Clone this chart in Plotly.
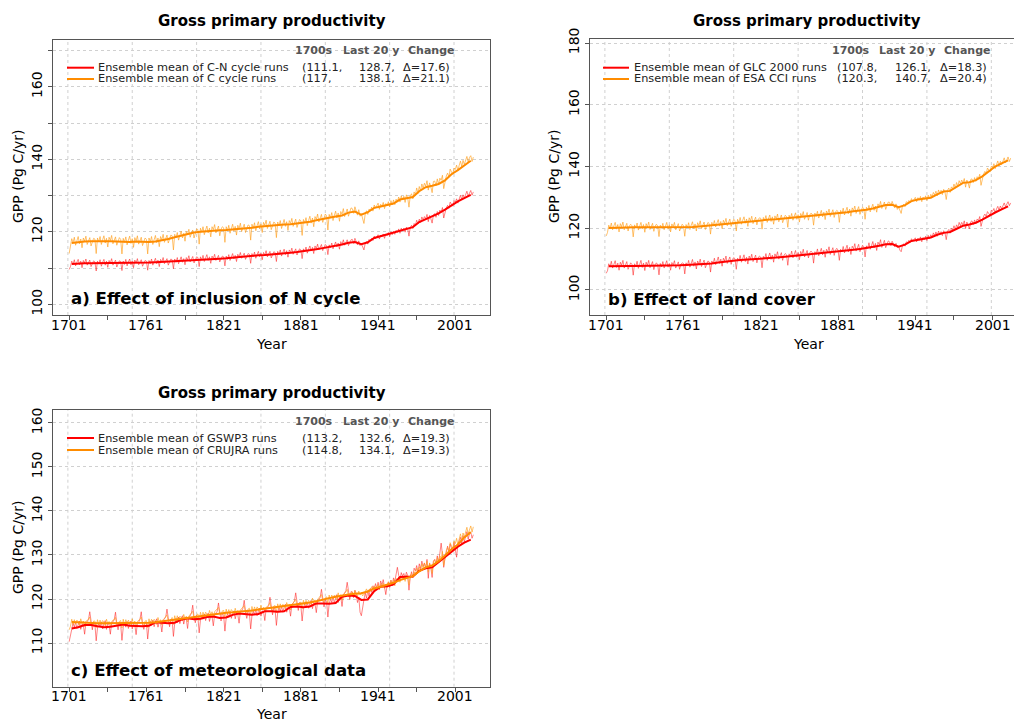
import plotly.graph_objects as go

W, H = 1014, 722
FONT = "DejaVu Sans"

years = list(range(1701, 2016))
smooth_years = list(range(1703, 2014, 5))

# ---- a) effect of including the N cycle ----
cn_annual = [
    109.6, 110.4, 111.9, 111.0, 112.3, 110.6, 111.6, 112.4, 110.9, 111.9, 110.1, 112.1, 111.4, 112.5, 110.8, 111.6, 112.2, 110.4, 111.5, 112.0,
    111.7, 109.2, 111.9, 111.1, 112.3, 110.5, 111.6, 112.4, 110.8, 111.9, 110.2, 112.1, 111.4, 112.6, 110.8, 111.6, 112.2, 110.3, 111.5, 112.0,
    111.8, 109.3, 111.9, 111.0, 112.4, 110.6, 111.7, 112.5, 110.9, 111.9, 110.1, 112.2, 111.4, 112.6, 110.9, 111.7, 112.3, 110.5, 111.6, 112.1,
    111.9, 109.4, 112.1, 111.2, 112.5, 110.8, 111.8, 112.7, 111.2, 112.2, 110.4, 112.4, 111.7, 112.9, 111.2, 112.0, 112.6, 110.8, 111.9, 112.5,
    112.3, 109.8, 112.5, 111.6, 112.9, 111.2, 112.2, 113.1, 111.6, 112.6, 110.9, 112.9, 112.2, 113.4, 111.7, 112.5, 113.2, 111.4, 112.6, 113.1,
    112.9, 110.4, 113.1, 112.2, 113.5, 111.8, 112.8, 113.7, 112.1, 113.1, 111.3, 113.3, 112.6, 113.8, 112.1, 112.9, 113.5, 111.7, 112.8, 113.3,
    113.1, 110.6, 113.3, 112.4, 113.7, 112.1, 113.1, 114.0, 112.5, 113.5, 111.8, 113.8, 113.1, 114.3, 112.7, 113.5, 114.1, 112.4, 113.5, 114.0,
    113.8, 111.3, 114.0, 113.1, 114.4, 112.7, 113.7, 114.6, 113.1, 114.1, 112.3, 114.3, 113.6, 114.8, 113.1, 113.9, 114.6, 112.8, 113.9, 114.5,
    114.3, 111.8, 114.6, 113.7, 115.0, 113.3, 114.3, 115.2, 113.7, 114.8, 113.0, 115.0, 114.3, 115.5, 113.8, 114.7, 115.3, 113.6, 114.7, 115.3,
    115.0, 112.6, 115.3, 114.5, 115.8, 114.1, 115.2, 116.1, 114.7, 115.7, 114.0, 116.1, 115.4, 116.6, 115.0, 115.8, 116.5, 114.8, 115.9, 116.5,
    116.1, 113.7, 116.4, 115.6, 116.9, 115.3, 116.3, 117.2, 115.8, 116.9, 115.2, 117.3, 116.6, 117.8, 116.3, 117.1, 117.8, 116.2, 117.3, 117.8,
    117.9, 116.8, 118.2, 117.3, 116.4, 117.5, 116.2, 116.7, 115.6, 115.0, 116.8, 117.3, 116.6, 117.9, 117.5, 118.2, 117.6, 118.8, 118.1, 118.6,
    119.2, 118.0, 119.1, 118.6, 119.4, 118.2, 119.3, 118.9, 119.8, 118.7, 120.0, 119.2, 120.1, 119.3, 120.4, 119.8, 120.8, 119.6, 121.0, 120.2,
    121.0, 119.9, 121.3, 120.8, 118.8, 121.2, 121.8, 120.9, 122.3, 121.8, 123.2, 122.2, 123.5, 122.6, 124.1, 123.3, 124.2, 123.6, 124.8, 122.8,
    124.5, 123.6, 122.4, 124.7, 125.0, 124.0, 125.6, 124.5, 126.0, 125.4, 126.7, 123.8, 125.4, 126.6, 127.3, 126.5, 128.2, 127.5, 127.1, 128.6,
    128.2, 129.1, 127.9, 129.0, 130.1, 128.9, 130.2, 129.3, 130.5, 131.2, 129.9, 130.9, 131.4, 130.1, 131.0,
]
c_annual = [
    114.0, 115.8, 118.1, 117.0, 118.5, 116.3, 117.6, 118.7, 116.7, 118.0, 115.6, 118.3, 117.4, 118.8, 116.5, 117.7, 118.4, 116.1, 117.5, 118.2,
    118.0, 114.0, 118.3, 117.2, 118.7, 116.5, 117.8, 118.9, 116.9, 118.2, 115.8, 118.5, 117.6, 119.0, 116.7, 117.9, 118.6, 116.3, 117.7, 118.4,
    117.9, 113.9, 118.2, 117.1, 118.6, 116.4, 117.7, 118.8, 116.8, 118.1, 115.7, 118.4, 117.5, 118.9, 116.6, 117.8, 118.5, 116.2, 117.6, 118.3,
    117.9, 113.9, 118.3, 117.2, 118.7, 116.5, 117.8, 119.0, 117.0, 118.3, 115.9, 118.7, 117.8, 119.3, 117.1, 118.3, 119.1, 116.9, 118.3, 119.1,
    118.9, 115.0, 119.3, 118.3, 119.8, 117.7, 119.0, 120.2, 118.3, 119.6, 117.4, 120.1, 119.2, 120.7, 118.5, 119.7, 120.5, 118.3, 119.7, 120.8,
    120.6, 116.6, 121.0, 119.9, 121.4, 119.2, 120.5, 121.6, 119.7, 121.0, 118.6, 121.4, 120.6, 122.0, 119.7, 120.9, 121.6, 118.9, 120.7, 121.4,
    121.1, 117.1, 121.4, 120.3, 121.8, 119.6, 120.9, 122.1, 120.2, 121.5, 119.1, 121.8, 120.9, 122.4, 120.1, 121.4, 122.1, 119.8, 121.2, 121.9,
    121.7, 117.7, 122.1, 121.0, 122.5, 120.3, 121.7, 122.8, 120.8, 122.2, 119.8, 122.6, 121.8, 123.2, 120.9, 122.1, 122.9, 120.6, 122.0, 122.7,
    122.4, 118.4, 122.7, 121.6, 123.1, 120.9, 122.2, 123.4, 121.5, 122.8, 120.4, 123.1, 122.3, 123.7, 121.5, 122.7, 123.5, 121.2, 122.6, 123.4,
    123.0, 119.0, 123.4, 122.4, 123.9, 121.7, 123.1, 124.3, 122.4, 123.8, 121.4, 124.2, 123.4, 124.9, 122.7, 124.0, 124.8, 122.6, 124.0, 124.9,
    124.4, 120.5, 124.8, 123.8, 125.3, 123.1, 124.5, 125.7, 123.8, 125.2, 122.9, 125.6, 124.8, 126.4, 124.2, 125.5, 126.3, 124.3, 125.7, 126.6,
    126.4, 125.1, 126.9, 125.8, 124.6, 126.1, 124.3, 125.0, 123.2, 122.3, 124.9, 125.8, 124.8, 126.3, 125.9, 126.8, 125.7, 127.4, 126.5, 127.1,
    127.9, 126.2, 127.6, 126.9, 128.1, 126.4, 127.8, 127.2, 128.3, 126.9, 128.6, 127.4, 128.8, 127.5, 129.0, 128.3, 129.6, 128.2, 129.9, 128.8,
    129.8, 128.1, 130.2, 129.4, 126.8, 129.9, 130.5, 129.1, 131.0, 130.2, 132.1, 130.6, 132.5, 131.3, 133.2, 132.0, 133.4, 132.6, 134.1, 131.5,
    133.5, 132.4, 130.8, 133.9, 134.0, 132.7, 134.6, 133.1, 134.8, 134.2, 135.6, 131.9, 133.8, 135.4, 136.2, 135.1, 137.3, 136.4, 135.8, 137.6,
    137.2, 138.4, 136.9, 138.3, 139.5, 138.0, 139.7, 138.6, 139.9, 140.8, 139.2, 140.5, 141.0, 139.4, 140.6,
]
cn_smooth = [
    111.1, 111.3, 111.3, 111.3, 111.3, 111.3, 111.3, 111.3, 111.3, 111.3,
    111.4, 111.4, 111.5, 111.6, 111.7, 111.8, 111.9, 112.1, 112.2, 112.4,
    112.5, 112.5, 112.6, 112.6, 112.7, 112.9, 113.1, 113.3, 113.4, 113.5,
    113.6, 113.7, 113.9, 114.0, 114.2, 114.4, 114.6, 114.9, 115.2, 115.5,
    115.8, 116.1, 116.5, 117.0, 117.2, 116.6, 117.1, 118.3, 118.8, 119.2,
    119.6, 120.1, 120.7, 121.3, 122.7, 123.5, 124.1, 125.1, 126.1, 127.3,
    128.4, 129.3, 130.2,
]
c_smooth = [
    116.9, 117.2, 117.3, 117.4, 117.3, 117.4, 117.4, 117.3, 117.3, 117.2,
    117.3, 117.2, 117.2, 117.3, 117.6, 118.0, 118.5, 119.0, 119.4, 119.8,
    120.0, 120.2, 120.3, 120.4, 120.5, 120.6, 120.8, 120.9, 121.1, 121.4,
    121.6, 121.7, 121.8, 122.0, 122.1, 122.3, 122.5, 122.8, 123.2, 123.6,
    123.9, 124.2, 124.5, 125.3, 125.6, 124.7, 125.4, 126.6, 127.0, 127.3,
    127.8, 128.9, 129.3, 129.6, 131.2, 132.3, 132.7, 133.2, 134.2, 135.9,
    137.0, 138.4, 139.6,
]

# ---- b) effect of land cover ----
glc_annual = [
    105.4, 106.2, 108.5, 107.5, 109.3, 107.1, 108.3, 109.5, 107.3, 108.7, 106.4, 109.0, 108.0, 109.6, 107.1, 108.4, 109.2, 106.7, 108.2, 108.8,
    108.3, 104.8, 108.5, 107.6, 109.3, 107.0, 108.3, 109.6, 107.3, 108.7, 106.3, 109.0, 108.0, 109.6, 107.2, 108.4, 109.2, 106.6, 108.2, 108.8,
    108.2, 104.9, 108.6, 107.5, 109.2, 107.1, 108.2, 109.5, 107.4, 108.6, 106.4, 108.9, 108.1, 109.5, 107.1, 108.5, 109.1, 106.7, 108.3, 108.8,
    108.6, 105.2, 108.8, 107.8, 109.6, 107.4, 108.6, 109.9, 107.7, 109.1, 106.8, 109.4, 108.4, 110.0, 107.6, 108.9, 109.7, 107.2, 108.7, 109.4,
    109.1, 105.8, 109.4, 108.5, 110.3, 108.2, 109.4, 110.7, 108.6, 110.0, 107.7, 110.3, 109.4, 111.0, 108.6, 109.9, 110.7, 108.3, 109.9, 110.5,
    110.1, 106.7, 110.3, 109.4, 111.2, 109.0, 110.2, 111.4, 109.2, 110.6, 108.4, 111.0, 110.0, 111.6, 109.2, 110.5, 111.3, 108.8, 110.4, 111.0,
    110.6, 107.2, 110.9, 110.0, 111.8, 109.6, 110.8, 112.0, 109.9, 111.3, 109.0, 111.7, 110.7, 112.4, 110.0, 111.3, 112.1, 109.6, 111.2, 111.8,
    111.4, 108.0, 111.7, 110.8, 112.6, 110.4, 111.6, 112.8, 110.6, 112.1, 109.8, 112.5, 111.5, 113.2, 110.7, 112.0, 112.8, 110.4, 112.0, 112.6,
    112.1, 108.7, 112.4, 111.5, 113.3, 111.1, 112.3, 113.5, 111.4, 112.9, 110.6, 113.2, 112.3, 114.0, 111.5, 112.9, 113.7, 111.2, 112.9, 113.5,
    112.9, 109.6, 113.2, 112.3, 114.1, 112.0, 113.2, 114.5, 112.3, 113.8, 111.5, 114.2, 113.3, 115.0, 112.6, 114.0, 114.8, 112.4, 113.9, 114.5,
    114.0, 110.7, 114.3, 113.4, 115.3, 113.2, 114.4, 115.7, 113.6, 115.1, 112.8, 115.5, 114.6, 116.3, 113.8, 115.2, 116.1, 113.7, 115.2, 115.9,
    115.6, 114.4, 115.8, 114.9, 114.0, 115.1, 113.7, 114.2, 112.9, 112.4, 114.4, 115.0, 114.2, 115.6, 115.3, 116.1, 115.4, 116.6, 115.8, 116.4,
    116.9, 115.6, 116.8, 116.1, 117.2, 115.6, 117.0, 116.3, 117.4, 116.0, 117.7, 116.6, 117.9, 117.1, 118.5, 117.6, 118.8, 117.4, 119.1, 118.1,
    118.9, 117.6, 119.2, 118.5, 116.3, 119.0, 119.6, 118.4, 120.0, 119.4, 120.8, 119.6, 121.1, 120.2, 121.9, 120.8, 121.9, 121.1, 122.4, 119.9,
    122.0, 121.0, 119.8, 122.1, 122.4, 121.2, 122.7, 121.6, 123.0, 122.5, 123.8, 120.6, 122.6, 123.9, 124.6, 123.8, 125.4, 124.8, 124.2, 125.8,
    125.5, 126.4, 125.0, 126.2, 127.1, 125.9, 127.2, 126.3, 127.5, 128.2, 127.0, 128.0, 128.6, 127.3, 128.2,
]
esa_annual = [
    117.5, 118.6, 121.0, 120.0, 121.7, 119.5, 120.8, 121.9, 119.7, 121.2, 118.8, 121.5, 120.5, 122.0, 119.5, 120.9, 121.6, 119.1, 120.7, 121.3,
    120.8, 117.2, 121.1, 120.1, 121.7, 119.4, 120.8, 121.9, 119.8, 121.2, 118.7, 121.5, 120.4, 122.0, 119.6, 120.9, 121.6, 119.0, 120.7, 121.3,
    120.7, 117.3, 121.0, 120.0, 121.6, 119.5, 120.7, 121.9, 119.7, 121.1, 118.8, 121.4, 120.5, 121.9, 119.5, 120.9, 121.5, 119.1, 120.6, 121.3,
    120.8, 117.4, 121.2, 120.1, 121.8, 119.6, 121.0, 122.1, 119.9, 121.4, 119.1, 121.8, 120.8, 122.4, 119.9, 121.3, 122.0, 119.6, 121.2, 121.9,
    121.5, 118.1, 121.9, 120.8, 122.5, 120.4, 121.7, 122.8, 120.7, 122.2, 119.9, 122.6, 121.6, 123.2, 120.8, 122.2, 123.0, 120.6, 122.2, 122.9,
    122.5, 119.1, 122.9, 121.8, 123.5, 121.3, 122.6, 123.7, 121.6, 123.0, 120.6, 123.4, 122.4, 123.9, 121.5, 122.9, 123.6, 121.1, 122.8, 123.4,
    123.2, 119.7, 123.5, 122.5, 124.1, 121.9, 123.2, 124.3, 122.2, 123.7, 121.3, 124.0, 123.0, 124.6, 122.1, 123.6, 124.3, 121.8, 123.5, 124.2,
    123.8, 120.3, 124.2, 123.1, 124.8, 122.6, 123.9, 125.0, 122.9, 124.4, 122.0, 124.8, 123.8, 125.4, 122.9, 124.4, 125.1, 122.6, 124.3, 124.9,
    124.5, 121.0, 124.9, 123.8, 125.5, 123.3, 124.6, 125.8, 123.7, 125.2, 122.8, 125.6, 124.6, 126.2, 123.8, 125.2, 126.0, 123.5, 125.2, 125.8,
    125.4, 121.9, 125.8, 124.7, 126.5, 124.3, 125.7, 126.8, 124.7, 126.2, 123.9, 126.6, 125.7, 127.2, 124.8, 126.2, 127.0, 124.5, 126.1, 126.8,
    126.4, 122.9, 126.8, 125.8, 127.4, 125.3, 126.6, 127.8, 125.8, 127.2, 125.2, 127.9, 126.9, 128.7, 126.4, 127.8, 128.5, 126.1, 127.8, 128.5,
    128.4, 127.2, 128.7, 127.6, 126.6, 127.9, 126.1, 126.9, 125.5, 124.8, 127.2, 127.8, 127.0, 128.6, 128.2, 129.0, 128.3, 129.6, 128.7, 129.4,
    130.0, 128.6, 129.9, 129.1, 130.3, 128.6, 130.1, 129.4, 130.5, 129.0, 130.7, 129.6, 131.0, 130.2, 131.6, 130.8, 132.0, 130.5, 132.4, 131.3,
    132.3, 130.9, 132.6, 131.7, 129.3, 132.3, 133.0, 131.6, 133.4, 132.8, 134.3, 133.0, 134.8, 133.6, 135.4, 134.4, 135.6, 134.7, 136.1, 133.3,
    135.6, 134.6, 133.0, 135.8, 136.0, 134.8, 136.4, 135.2, 136.7, 136.1, 137.5, 133.9, 136.0, 137.6, 138.4, 137.6, 139.5, 138.8, 138.2, 140.1,
    139.6, 140.9, 139.3, 140.6, 141.8, 140.2, 141.7, 140.6, 141.9, 142.8, 141.2, 142.4, 143.1, 141.6, 142.7,
]
glc_smooth = [
    107.7, 107.8, 107.8, 107.8, 107.8, 107.8, 107.8, 107.8, 107.8, 107.8,
    107.9, 108.0, 108.1, 108.2, 108.3, 108.4, 108.6, 108.9, 109.2, 109.4,
    109.6, 109.8, 109.9, 110.0, 110.1, 110.3, 110.5, 110.7, 110.9, 111.1,
    111.3, 111.5, 111.6, 111.8, 112.0, 112.2, 112.4, 112.7, 113.0, 113.3,
    113.6, 113.9, 114.3, 114.8, 114.9, 114.0, 114.7, 115.9, 116.3, 116.6,
    117.0, 117.9, 118.5, 118.8, 119.9, 120.8, 121.2, 121.8, 122.8, 124.0,
    125.1, 126.1, 127.1,
]
esa_smooth = [
    120.1, 120.2, 120.3, 120.3, 120.3, 120.3, 120.3, 120.3, 120.3, 120.2,
    120.3, 120.3, 120.3, 120.4, 120.6, 120.8, 121.0, 121.3, 121.6, 121.8,
    122.0, 122.2, 122.4, 122.5, 122.7, 122.8, 122.9, 123.1, 123.3, 123.5,
    123.7, 123.9, 124.0, 124.2, 124.5, 124.7, 124.9, 125.2, 125.5, 125.7,
    126.0, 126.4, 126.9, 127.5, 127.6, 126.8, 127.5, 128.8, 129.3, 129.6,
    129.9, 131.0, 131.9, 132.1, 133.5, 134.7, 134.9, 135.6, 136.8, 138.3,
    140.0, 141.0, 142.0,
]

# ---- c) effect of meteorological forcing ----
gswp3_annual = [
    110.3, 112.0, 113.5, 114.5, 113.6, 114.8, 113.3, 114.4, 115.0, 113.1, 114.3, 114.1, 112.0, 114.5, 114.8, 115.3, 117.1, 114.4, 113.0, 114.7,
    114.2, 110.5, 113.4, 114.5, 113.7, 114.8, 113.2, 114.4, 115.1, 113.1, 114.3, 114.0, 112.0, 114.6, 114.8, 115.3, 117.0, 114.4, 113.0, 114.7,
    114.3, 110.6, 113.5, 114.4, 113.6, 114.9, 113.3, 114.3, 115.0, 113.2, 114.3, 114.1, 111.9, 114.5, 114.7, 115.4, 117.1, 114.3, 113.1, 114.6,
    114.5, 110.9, 113.8, 114.9, 114.0, 115.2, 113.7, 114.8, 115.5, 113.6, 114.8, 114.6, 112.5, 115.1, 115.4, 115.9, 117.7, 115.0, 113.7, 115.4,
    115.1, 111.5, 114.5, 115.5, 114.6, 115.9, 114.4, 115.6, 116.2, 114.3, 115.6, 115.4, 113.3, 115.9, 116.2, 116.8, 118.6, 115.9, 114.6, 116.3,
    115.9, 112.3, 115.2, 116.3, 115.4, 116.6, 115.1, 116.2, 116.8, 114.9, 116.2, 116.0, 113.9, 116.4, 116.7, 117.2, 119.1, 116.4, 115.0, 116.7,
    116.3, 112.7, 115.7, 116.7, 115.8, 117.1, 115.6, 116.7, 117.3, 115.5, 116.7, 116.5, 114.5, 117.0, 117.3, 117.9, 119.7, 117.0, 115.6, 117.4,
    116.8, 113.2, 116.2, 117.2, 116.4, 117.6, 116.2, 117.3, 117.9, 116.1, 117.3, 117.2, 115.1, 117.7, 118.0, 118.5, 120.4, 117.7, 116.4, 118.1,
    117.5, 114.0, 116.9, 118.0, 117.2, 118.4, 117.0, 118.1, 118.8, 117.0, 118.2, 118.1, 116.1, 118.6, 119.0, 119.5, 121.4, 118.8, 117.4, 119.2,
    118.5, 115.0, 117.9, 118.9, 118.1, 119.3, 117.9, 119.0, 119.7, 117.8, 119.1, 118.9, 116.9, 119.4, 119.8, 120.3, 122.2, 119.5, 118.2, 119.9,
    119.4, 115.9, 118.9, 120.0, 119.2, 120.5, 119.1, 120.3, 121.0, 119.2, 120.5, 120.4, 118.3, 120.9, 121.3, 121.9, 123.8, 121.2, 119.9, 121.7,
    121.6, 120.3, 122.0, 121.1, 119.2, 120.4, 117.0, 116.2, 118.6, 119.8, 121.4, 120.2, 121.9, 120.6, 122.4, 121.5, 123.0, 122.1, 123.5, 122.4,
    123.8, 122.2, 124.1, 123.2, 124.4, 122.7, 121.0, 123.1, 123.9, 122.6, 124.3, 123.0, 124.8, 124.0, 126.1, 127.2, 125.4, 124.3, 126.0, 125.2,
    125.8, 124.6, 126.1, 125.3, 122.0, 125.0, 126.2, 124.9, 127.0, 126.4, 127.6, 126.0, 128.0, 126.9, 128.6, 127.4, 128.2, 126.8, 129.0, 124.7,
    128.1, 127.0, 124.9, 128.6, 129.0, 127.9, 129.8, 128.4, 130.4, 132.7, 130.1, 127.2, 129.3, 131.0, 132.0, 130.6, 132.5, 131.6, 130.8, 132.9,
    131.5, 129.5, 132.4, 133.1, 134.0, 132.6, 134.4, 133.0, 134.6, 135.3, 133.6, 134.8, 135.2, 133.8, 134.6,
]
crujra_annual = [
    113.0, 113.8, 115.4, 114.2, 115.3, 114.3, 115.2, 114.8, 114.0, 115.5, 114.4, 115.0, 113.7, 114.9, 115.2, 115.4, 115.9, 114.4, 114.0, 115.0,
    115.0, 113.5, 115.3, 114.2, 115.2, 114.3, 115.1, 114.8, 113.9, 115.4, 114.4, 114.9, 113.7, 114.8, 115.2, 115.3, 115.8, 114.3, 114.0, 114.9,
    115.1, 113.4, 115.4, 114.1, 115.3, 114.2, 115.2, 114.7, 114.0, 115.5, 114.3, 115.0, 113.6, 114.9, 115.1, 115.4, 115.9, 114.4, 113.9, 115.0,
    115.1, 113.5, 115.5, 114.3, 115.4, 114.5, 115.4, 115.0, 114.2, 115.8, 114.7, 115.3, 114.1, 115.3, 115.6, 115.9, 116.4, 114.9, 114.3, 115.2,
    115.8, 114.2, 116.2, 115.0, 116.2, 115.2, 116.1, 115.8, 115.0, 116.5, 115.5, 116.1, 114.8, 116.1, 116.4, 116.7, 117.2, 115.7, 115.4, 116.4,
    116.6, 115.1, 117.0, 115.8, 117.0, 116.0, 117.0, 116.6, 115.9, 117.4, 116.4, 117.1, 115.9, 117.1, 117.4, 117.6, 118.1, 116.7, 116.3, 117.3,
    117.4, 115.8, 117.7, 116.5, 117.6, 116.7, 117.6, 117.2, 116.4, 117.9, 116.8, 117.4, 116.3, 117.5, 117.8, 118.0, 118.5, 117.1, 116.7, 117.7,
    117.9, 116.3, 118.3, 117.1, 118.2, 117.3, 118.2, 117.8, 117.0, 118.6, 117.5, 118.1, 117.3, 118.1, 118.4, 118.6, 119.2, 117.7, 117.3, 118.4,
    118.5, 116.9, 118.9, 117.7, 118.9, 117.9, 118.8, 118.5, 117.7, 119.2, 118.2, 118.8, 117.5, 118.8, 119.1, 119.4, 119.9, 118.4, 118.1, 119.1,
    119.3, 117.8, 119.7, 118.6, 119.7, 118.8, 119.7, 119.4, 118.7, 120.2, 119.2, 119.8, 118.6, 119.9, 120.2, 120.5, 121.0, 119.6, 119.2, 120.3,
    120.5, 119.0, 120.9, 119.8, 120.9, 120.0, 120.9, 120.6, 119.8, 121.4, 120.3, 121.0, 119.7, 121.0, 121.3, 121.6, 122.2, 120.7, 120.4, 121.4,
    121.6, 120.8, 121.9, 121.2, 120.6, 121.8, 120.9, 121.5, 120.7, 121.1, 121.8, 122.3, 121.4, 122.2, 122.0, 122.8, 122.1, 123.0, 122.5, 122.9,
    123.3, 122.1, 123.5, 122.9, 123.6, 122.4, 123.4, 122.6, 123.9, 122.8, 124.2, 123.4, 124.4, 123.0, 124.7, 123.9, 125.0, 123.8, 125.2, 124.4,
    125.1, 124.0, 125.4, 124.9, 123.2, 125.3, 125.8, 124.9, 126.2, 125.6, 127.0, 125.9, 127.3, 126.5, 128.0, 127.0, 128.1, 127.3, 128.6, 126.1,
    128.2, 127.3, 125.8, 128.5, 128.9, 127.8, 129.4, 128.2, 129.8, 129.3, 130.8, 127.6, 129.6, 131.0, 131.7, 130.9, 132.8, 132.0, 131.4, 133.2,
    132.6, 133.8, 132.3, 133.6, 134.8, 133.4, 135.0, 134.1, 135.4, 136.3, 134.8, 135.9, 136.6, 135.2, 136.4,
]
gswp3_smooth = [
    113.3, 113.6, 114.1, 114.1, 113.8, 113.6, 113.7, 114.0, 114.2, 113.9,
    113.8, 113.8, 113.9, 114.7, 114.6, 114.5, 114.6, 115.3, 115.6, 115.4,
    115.5, 115.9, 116.0, 115.7, 115.8, 116.4, 116.7, 116.5, 116.4, 116.6,
    117.2, 117.2, 117.1, 117.2, 118.2, 118.3, 118.1, 118.3, 119.0, 119.0,
    118.9, 119.1, 120.5, 120.8, 120.7, 119.8, 119.9, 121.8, 122.8, 122.9,
    123.3, 125.0, 125.1, 125.1, 126.4, 127.0, 127.2, 128.4, 129.5, 130.6,
    131.9, 132.8, 133.5,
]
crujra_smooth = [
    114.8, 114.7, 114.6, 114.6, 114.5, 114.5, 114.5, 114.5, 114.5, 114.5,
    114.5, 114.5, 114.6, 114.7, 114.9, 115.1, 115.3, 115.5, 115.7, 115.9,
    116.1, 116.4, 116.6, 116.8, 116.9, 117.0, 117.1, 117.3, 117.4, 117.6,
    117.8, 118.0, 118.2, 118.3, 118.5, 118.7, 118.9, 119.2, 119.5, 119.9,
    120.2, 120.5, 120.8, 121.0, 121.2, 121.3, 121.7, 122.4, 122.8, 123.2,
    123.7, 124.3, 124.7, 125.2, 126.3, 127.2, 127.6, 128.6, 129.9, 131.3,
    132.4, 134.0, 135.2,
]

# legend text: run names and summary statistics (1700s mean, last 20 y mean, change)
names_a = ["Ensemble mean of C-N cycle runs", "Ensemble mean of C cycle runs"]
stats_a = [["(111.1,", "128.7,", "Δ=17.6)"], ["(117,", "138.1,", "Δ=21.1)"]]
names_b = ["Ensemble mean of GLC 2000 runs", "Ensemble mean of ESA CCI runs"]
stats_b = [["(107.8,", "126.1,", "Δ=18.3)"], ["(120.3,", "140.7,", "Δ=20.4)"]]
names_c = ["Ensemble mean of GSWP3 runs", "Ensemble mean of CRUJRA runs"]
stats_c = [["(113.2,", "132.6,", "Δ=19.3)"], ["(114.8,", "134.1,", "Δ=19.3)"]]
stat_headers = ["1700s", "Last 20 y", "Change"]
panel_labels = ["a) Effect of inclusion of N cycle", "b) Effect of land cover",
                "c) Effect of meteorological data"]

x_tick_years = [1701, 1731, 1761, 1791, 1821, 1851, 1881, 1911, 1941, 1971, 2001]
x_label_years = [1701, 1761, 1821, 1881, 1941, 2001]
x_grid_years = [1700, 1750, 1800, 1850, 1900, 1950, 2000]

RED = "#ff0000"
ORANGE = "#ff8c00"
RED_THIN = "rgba(255,30,30,0.55)"
ORANGE_THIN = "rgba(255,160,30,0.65)"
AXIS_COL = "#555555"
GRID_COL = "#d0d0d0"


def fx(p):
    return p / W


def fy(p):
    return 1 - p / H


panels = [
    dict(key="", xdom=(53, 489.5), ydom=(39.5, 315), xr=[1688.44, 2027.56], yr=[97.05, 173.05],
         yticks=[100, 110, 120, 130, 140, 150, 160, 170],
         ytext=["100", "", "120", "", "140", "", "160", ""],
         series=(cn_annual, c_annual, cn_smooth, c_smooth), names=names_a, stats=stats_a,
         title_xy=(271.5, 21.5), ytitle_xy=(18, 177), xtitle_xy=(271.5, 344),
         leg=dict(hy=50, rows=(67.7, 79), line=(67, 94), name=96, cols=(300, 357, 401),
                  heads=(293, 341, 406)),
         label_xy=(69, 299), mirror_y=True),
    dict(key="2", xdom=(590, 1014), ydom=(39.3, 315), xr=[1688.44, 2017.6], yr=[91.9, 181.2],
         yticks=[100, 120, 140, 160, 180], ytext=["100", "120", "140", "160", "180"],
         series=(glc_annual, esa_annual, glc_smooth, esa_smooth), names=names_b, stats=stats_b,
         title_xy=(807, 21.5), ytitle_xy=(554, 177), xtitle_xy=(808, 344),
         leg=dict(hy=50, rows=(67.7, 79), line=(603, 629), name=632, cols=(835, 893, 938),
                  heads=(830, 877, 942)),
         label_xy=(605.5, 299.5), mirror_y=False),
    dict(key="3", xdom=(53, 489.5), ydom=(410, 686.7), xr=[1688.44, 2027.56], yr=[100.07, 162.95],
         yticks=[100, 110, 120, 130, 140, 150, 160],
         ytext=["100", "110", "120", "130", "140", "150", "160"],
         series=(gswp3_annual, crujra_annual, gswp3_smooth, crujra_smooth), names=names_c, stats=stats_c,
         title_xy=(271.5, 393.5), ytitle_xy=(18, 548), xtitle_xy=(271.5, 714),
         leg=dict(hy=421.7, rows=(438, 450), line=(67, 94), name=96, cols=(300, 357, 401),
                  heads=(293, 341, 406)),
         label_xy=(69, 670), mirror_y=True),
]

fig = go.Figure()
shapes = []
annotations = []
layout_axes = {}

for i, p in enumerate(panels):
    k = p["key"]
    xa, ya = "x" + k, "y" + k
    lo, hi, lo_s, hi_s = p["series"]
    fig.add_trace(go.Scatter(x=years, y=lo, mode="lines", line=dict(color=RED_THIN, width=1),
                             xaxis=xa, yaxis=ya, hoverinfo="skip"))
    fig.add_trace(go.Scatter(x=years, y=hi, mode="lines", line=dict(color=ORANGE_THIN, width=1),
                             xaxis=xa, yaxis=ya, hoverinfo="skip"))
    fig.add_trace(go.Scatter(x=smooth_years, y=lo_s, mode="lines", line=dict(color=RED, width=2),
                             xaxis=xa, yaxis=ya, name=p["names"][0]))
    fig.add_trace(go.Scatter(x=smooth_years, y=hi_s, mode="lines", line=dict(color=ORANGE, width=2),
                             xaxis=xa, yaxis=ya, name=p["names"][1]))

    tickfont = dict(family=FONT, size=14, color="black")
    layout_axes["xaxis" + k] = dict(
        domain=[fx(p["xdom"][0]), fx(p["xdom"][1])], range=p["xr"], anchor=ya,
        tickmode="array", tickvals=x_tick_years, showticklabels=False,
        ticks="outside", ticklen=4, tickcolor=AXIS_COL, automargin=False,
        showline=True, linecolor=AXIS_COL, linewidth=1, mirror=True,
        showgrid=False, zeroline=False,
    )
    layout_axes["yaxis" + k] = dict(
        domain=[fy(p["ydom"][1]), fy(p["ydom"][0])], range=p["yr"], anchor=xa,
        tickmode="array", tickvals=p["yticks"], ticktext=p["ytext"], tickangle=-90,
        ticks="outside", ticklen=4, tickcolor=AXIS_COL, tickfont=tickfont, automargin=False,
        showline=True, linecolor=AXIS_COL, linewidth=1, mirror=p["mirror_y"],
        showgrid=True, gridcolor=GRID_COL, griddash="dot", gridwidth=1, zeroline=False,
    )

    # year labels under the bottom axis, placed on the axis scale
    for yr_lab in x_label_years:
        annotations.append(dict(text=str(yr_lab), x=yr_lab, xref=xa, y=fy(p["ydom"][1] + 9.5),
                                yref="paper", showarrow=False, xanchor="center", yanchor="middle",
                                font=tickfont))

    # vertical grid on round years
    for gy in x_grid_years:
        shapes.append(dict(type="line", xref=xa, yref=ya + " domain", x0=gy, x1=gy, y0=0, y1=1,
                           line=dict(color=GRID_COL, width=1, dash="dot"), layer="below"))

    # panel title and axis titles
    annotations.append(dict(text="<b>Gross primary productivity</b>", x=fx(p["title_xy"][0]),
                            y=fy(p["title_xy"][1]), xref="paper", yref="paper", showarrow=False,
                            xanchor="center", yanchor="middle",
                            font=dict(family=FONT, size=15, color="black")))
    annotations.append(dict(text="GPP (Pg C/yr)", x=fx(p["ytitle_xy"][0]), y=fy(p["ytitle_xy"][1]),
                            xref="paper", yref="paper", showarrow=False, textangle=-90,
                            xanchor="center", yanchor="middle",
                            font=dict(family=FONT, size=14, color="black")))
    annotations.append(dict(text="Year", x=fx(p["xtitle_xy"][0]), y=fy(p["xtitle_xy"][1]),
                            xref="paper", yref="paper", showarrow=False,
                            xanchor="center", yanchor="middle",
                            font=dict(family=FONT, size=14, color="black")))
    annotations.append(dict(text="<b>" + panel_labels[i] + "</b>", x=fx(p["label_xy"][0]),
                            y=fy(p["label_xy"][1]), xref="paper", yref="paper", showarrow=False,
                            xanchor="left", yanchor="middle",
                            font=dict(family=FONT, size=16.6, color="black")))

    # legend block
    leg = p["leg"]
    for hx, htxt in zip(leg["heads"], stat_headers):
        annotations.append(dict(text="<b>" + htxt + "</b>", x=fx(hx), y=fy(leg["hy"]),
                                xref="paper", yref="paper", showarrow=False,
                                xanchor="left", yanchor="middle",
                                font=dict(family=FONT, size=11, color="#555555")))
    for ry, col, name, st in zip(leg["rows"], (RED, ORANGE), p["names"], p["stats"]):
        shapes.append(dict(type="line", xref="paper", yref="paper",
                           x0=fx(leg["line"][0]), x1=fx(leg["line"][1]), y0=fy(ry), y1=fy(ry),
                           line=dict(color=col, width=2)))
        annotations.append(dict(text=name, x=fx(leg["name"]), y=fy(ry), xref="paper", yref="paper",
                                showarrow=False, xanchor="left", yanchor="middle",
                                font=dict(family=FONT, size=11.3, color="#222222")))
        for cx, s in zip(leg["cols"], st):
            annotations.append(dict(text=s, x=fx(cx), y=fy(ry), xref="paper", yref="paper",
                                    showarrow=False, xanchor="left", yanchor="middle",
                                    font=dict(family=FONT, size=11.3, color="#222222")))

fig.update_layout(
    template="none",
    width=W, height=H, autosize=False,
    margin=dict(l=0, r=0, t=0, b=0, pad=0),
    paper_bgcolor="white", plot_bgcolor="white",
    showlegend=False,
    font=dict(family=FONT),
    shapes=shapes, annotations=annotations,
    **layout_axes,
)

fig.write_html("out.html", config={"displayModeBar": False})
